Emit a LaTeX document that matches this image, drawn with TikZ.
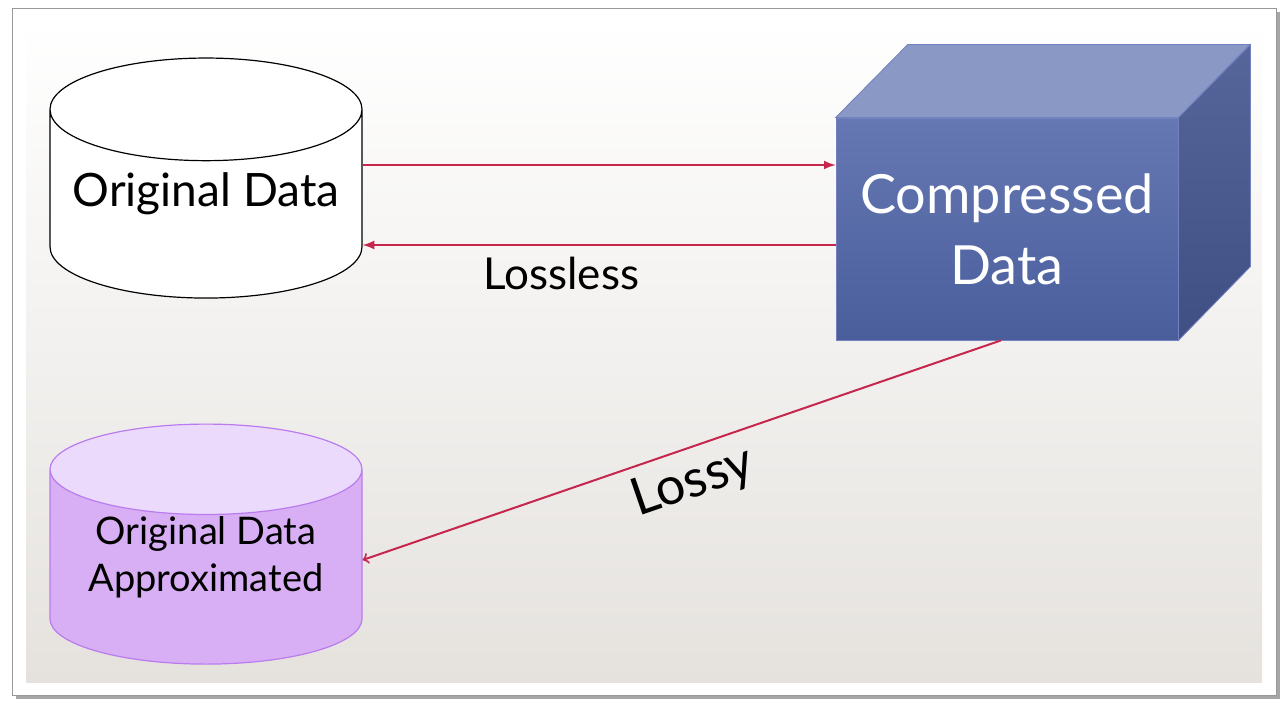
\documentclass[tikz,border=0pt]{standalone}
\usepackage{fontspec}
\setmainfont{Lato}
\usepackage{tikz}
\usetikzlibrary{shapes.geometric,arrows}

\definecolor{lossred}{HTML}{C6264D}
\definecolor{panelgray}{HTML}{E5E2DE}
\definecolor{cubefront}{HTML}{6578B3}
\definecolor{cubefrontdark}{HTML}{4A5E9C}
\definecolor{cubetop}{HTML}{8A98C5}
\definecolor{cubeside}{HTML}{56659A}
\definecolor{cubesidedark}{HTML}{3F4F84}
\definecolor{cubeedge}{HTML}{7382BE}
\definecolor{approxline}{HTML}{B97BEE}
\definecolor{approxbody}{HTML}{D8AEF4}
\definecolor{approxend}{HTML}{EBDAFB}

\begin{document}
\begin{tikzpicture}
		[x=0.5pt,y=-0.5pt,
		db/.style= {cylinder,shape border rotate=90,aspect=0.385,minimum width=156pt,minimum height=120pt,draw,line width=0.6pt,cylinder uses custom fill,align=center,inner sep=0pt},
		cube/.style= {rectangle,minimum width=171pt,minimum height=111pt,top color=cubefront,bottom color=cubefrontdark,draw=cubeedge,text=white,align=center,font=\fontsize{27}{35.5}\selectfont},
		arr/.style= {-latex,draw=lossred,line width=1pt}]

		\useasboundingbox (0,0) rectangle (1288,711);

		% frame and panel
		\fill[black!35] (16,12) rectangle (1280,699);
		\draw[fill=white,draw=black!40] (12,8) rectangle (1276,695);
		\shade[top color=white,bottom color=panelgray] (26,22) rectangle (1262,682);

		\node[db,cylinder body fill=white,cylinder end fill=white,font=\fontsize{23}{28}\selectfont,text depth=14pt] (od) at (206,204) {Original Data};

		\node[db,draw=approxline,cylinder body fill=approxbody,cylinder end fill=approxend,font=\fontsize{19}{23.5}\selectfont,text depth=13pt] (oa) at (206,567) {Original Data\\Approximated};

		\node[cube] (cz) at (1007,229) {Compressed\\Data};
		\draw[cubeedge,fill=cubetop] (cz.north west) -- ++(72,-73) -- ++(342,0) -- (cz.north east) -- cycle;
		\shade[top color=cubeside,bottom color=cubesidedark,draw=cubeedge] (cz.north east) -- ++(72,-73) -- ++(0,222) -- (cz.south east) -- cycle;

		\draw[arr] (od.east |- 0,165) -- (cz.west |- 0,165);
		\draw[arr] (cz.west |- 0,245) -- (od.east |- 0,245)
			node[pos=0.58,below=2pt,font=\fontsize{22}{26}\selectfont] {Lossless};
		\draw[arr,<-] (oa.east |- 0,560) -- ([xshift=-3pt]cz.south)
			node[pos=0.5,sloped,below=2pt,font=\fontsize{26}{30}\selectfont] {Lossy};

	\end{tikzpicture}
\end{document}
